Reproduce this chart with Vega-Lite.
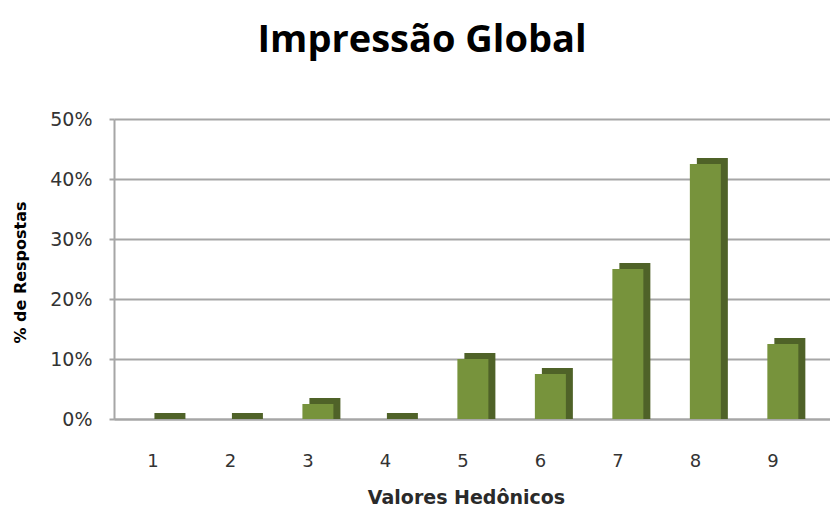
{
  "$schema": "https://vega.github.io/schema/vega-lite/v6.json",
  "autosize": "none",
  "width": 716,
  "height": 300,
  "padding": {"left": 114, "top": 119, "right": 0, "bottom": 89},
  "background": "white",
  "title": {
    "text": "Impressão Global",
    "font": "Open Sans",
    "fontSize": 38,
    "fontWeight": "bold",
    "color": "#000000",
    "anchor": "middle",
    "offset": 50,
    "dx": -50
  },
  "data": {
    "values": [
      {"valor": "1", "pct": 0},
      {"valor": "2", "pct": 0},
      {"valor": "3", "pct": 0.025},
      {"valor": "4", "pct": 0},
      {"valor": "5", "pct": 0.1},
      {"valor": "6", "pct": 0.075},
      {"valor": "7", "pct": 0.25},
      {"valor": "8", "pct": 0.425},
      {"valor": "9", "pct": 0.125}
    ]
  },
  "encoding": {
    "x": {
      "field": "valor",
      "type": "ordinal",
      "sort": null,
      "scale": {"paddingInner": 0.6, "paddingOuter": 0.42, "align": 0.36},
      "axis": {
        "title": "Valores Hedônicos",
        "titleFont": "DejaVu Sans",
        "titleFontSize": 19,
        "titleFontWeight": "bold",
        "titleColor": "#2a2a2a",
        "titleY": 78,
        "titleBaseline": "middle",
        "titleX": 352,
        "labelAngle": 0,
        "labelFont": "DejaVu Sans",
        "labelFontSize": 18,
        "labelColor": "#333333",
        "labelPadding": 33,
        "ticks": false,
        "tickSize": 0,
        "domainColor": "#a6a6a6",
        "domainWidth": 2
      }
    },
    "y": {
      "field": "pct",
      "type": "quantitative",
      "scale": {"domain": [0, 0.5], "nice": false},
      "axis": {
        "title": "% de Respostas",
        "titleFont": "DejaVu Sans",
        "titleFontSize": 16,
        "titleFontWeight": "bold",
        "titleColor": "#000000",
        "titleX": -94,
        "titleY": 153,
        "titleAngle": -90,
        "titleAlign": "center",
        "titleBaseline": "middle",
        "format": ".0%",
        "values": [0, 0.1, 0.2, 0.3, 0.4, 0.5],
        "labelFont": "DejaVu Sans",
        "labelFontSize": 19,
        "labelColor": "#333333",
        "labelPadding": 17,
        "tickSize": 5,
        "tickColor": "#a6a6a6",
        "tickWidth": 2,
        "domainColor": "#a6a6a6",
        "domainWidth": 2,
        "gridColor": "#a6a6a6",
        "gridWidth": 2
      }
    }
  },
  "layer": [
    {
      "mark": {"type": "bar", "color": "#4f6228", "xOffset": 17, "yOffset": -6, "y2Offset": 0},
      "encoding": {"y2": {"datum": 0}}
    },
    {
      "mark": {"type": "bar", "color": "#77933c", "xOffset": 10},
      "encoding": {}
    }
  ],
  "config": {
    "view": {"stroke": null}
  }
}
